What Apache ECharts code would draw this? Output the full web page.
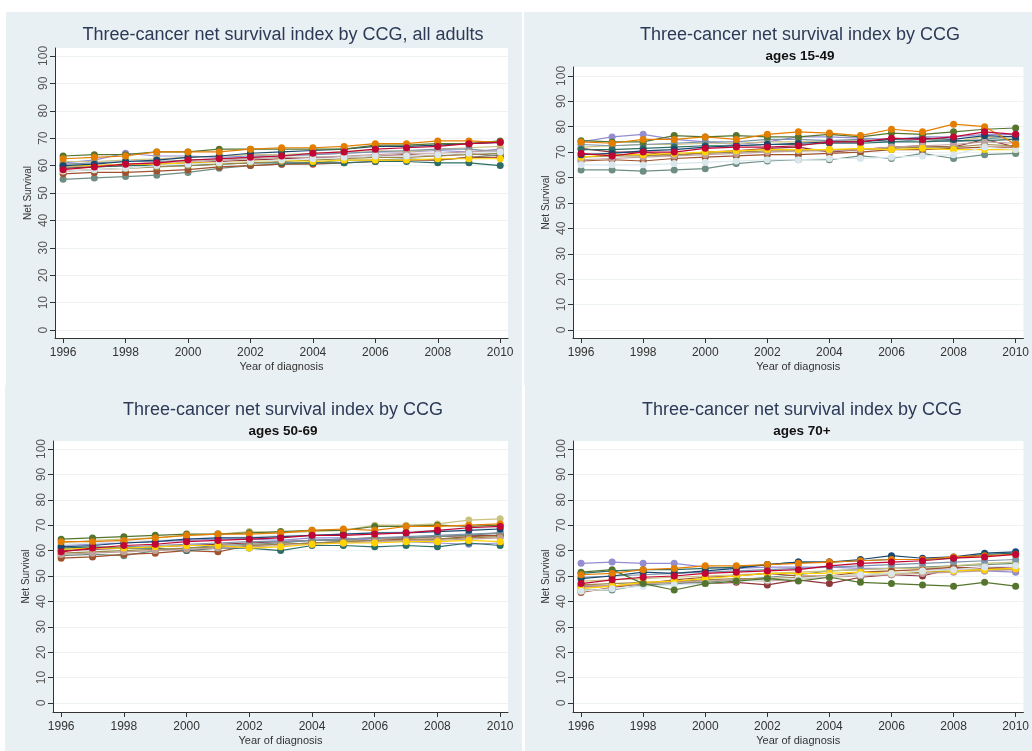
<!DOCTYPE html>
<html>
<head>
<meta charset="utf-8">
<title>Three-cancer net survival index by CCG</title>
<script src="https://cdn.jsdelivr.net/npm/echarts@6.0.0/dist/echarts.min.js"></script>
<style>
  html, body { margin: 0; padding: 0; background: #fff; }
  #chart { width: 1032px; height: 751px; }
</style>
</head>
<body>
<div id="chart"></div>
<script>
// years of diagnosis and tick labels
const years = [1996, 1997, 1998, 1999, 2000, 2001, 2002, 2003, 2004, 2005, 2006, 2007, 2008, 2009, 2010];
const xTicks = [1996, 1998, 2000, 2002, 2004, 2006, 2008, 2010];
const yTicks = [0, 10, 20, 30, 40, 50, 60, 70, 80, 90, 100];

// stata s2color order
const palette = ['#1a476f', '#90353b', '#55752f', '#e37e00', '#6e8e84', '#c10534', '#938dd2', '#cac27e',
  '#a0522d', '#7b92a8', '#2d6d66', '#9c8847', '#bfa19c', '#ffd200', '#d9e6eb'];

// net survival, one row per CCG
const allAdults = [
  [60, 60.5, 61.5, 62, 63, 63.5, 64.5, 65, 65.5, 66, 67, 67, 67.5, 68, 68.5],
  [59, 59.5, 60, 60.5, 61, 61.5, 62, 62.5, 63, 63, 63.5, 64, 63.5, 64.5, 63.5],
  [63.5, 64, 64, 65, 65, 66, 66, 66, 66, 66, 67.5, 67.5, 68, 68, 69],
  [62.5, 63, 63.5, 65, 65, 65, 66, 66.5, 66.5, 67, 68, 68, 69, 69, 68.5],
  [55, 55.5, 56, 56.5, 57.5, 59, 60, 60.5, 61, 62, 62, 62.5, 62, 63, 64],
  [58.5, 59.5, 60.5, 61, 62, 62.5, 63, 63.5, 64.5, 65, 66, 66.5, 67, 68, 68.5],
  [61, 62, 64.5, 63.5, 63.5, 63, 63.5, 64, 64, 64.5, 65, 65, 65.5, 65, 66],
  [61.5, 61.5, 62, 62.5, 63, 63.5, 64, 64, 64.5, 65, 65.5, 65, 66, 66.5, 67],
  [57, 57.5, 57.5, 58, 58.5, 59.5, 60, 60.5, 60.5, 61, 61.5, 62, 62, 63, 63],
  [60.5, 61, 61.5, 61.5, 62, 62.5, 63, 63.5, 64, 64.5, 65, 65.5, 66, 66, 65],
  [59.5, 59.5, 60, 60, 60, 60.5, 61, 61, 61, 61, 61.5, 61.5, 61, 61, 60],
  [58, 58.5, 59, 59.5, 60, 60.5, 61, 61.5, 62, 62.5, 63, 63, 63.5, 64, 64.5],
  [59.5, 60, 60.5, 61, 61.5, 62, 62.5, 63, 63, 63.5, 64, 64.5, 64.5, 65, 65.5],
  [60, 60, 60.5, 60.5, 61, 61, 61.5, 62, 61.5, 62, 62, 62, 62.5, 62.5, 62.5],
  [58, 58.5, 59, 60, 60.5, 61, 61.5, 62, 62.5, 63, 63.5, 63.5, 64, 64.5, 65]
];

const ages15to49 = [
  [69, 69.5, 70.5, 71, 72, 72.5, 73, 73.5, 74, 74, 75, 75.5, 75, 76.5, 76],
  [71.5, 70, 70, 68.5, 70, 70.5, 71.5, 72, 70, 71, 72, 72.5, 72, 75, 72],
  [74.5, 74, 74, 76.5, 76, 76.5, 76, 76, 77, 76, 77.5, 77, 78, 79, 79.5],
  [74, 73.5, 75, 75, 76, 75, 77, 78, 77.5, 76.5, 79, 78, 81, 80, 73],
  [63, 63, 62.5, 63, 63.5, 65.5, 66.5, 67, 67, 68.5, 67.5, 69.5, 67.5, 69, 69.5],
  [69.5, 68.5, 70, 70, 71.5, 72, 72, 72.5, 74, 74, 75.5, 75, 76, 78, 77],
  [74, 76, 77, 75, 74, 73, 74, 76, 76, 75.5, 75, 76, 76, 77, 77],
  [72, 72.5, 73, 73, 73.5, 73.5, 74, 74, 74.5, 74.5, 75, 75.5, 74, 76, 75],
  [66.5, 67, 66.5, 67.5, 68, 68.5, 69, 69, 69.5, 70, 71, 71, 71.5, 72, 72],
  [73, 72.5, 73, 73.5, 74, 74, 75, 75, 74.5, 75, 74, 75, 74, 75, 76.5],
  [71, 71, 71.5, 72, 72.5, 72.5, 73, 73, 73.5, 73.5, 74, 74, 74.5, 74.5, 75],
  [68, 68.5, 68.5, 69, 69.5, 70, 70.5, 70.5, 71, 71, 71.5, 72, 72, 73, 72.5],
  [67, 67.5, 68, 68.5, 69, 69.5, 70, 70.5, 70.5, 71, 72, 72.5, 73, 74, 73.5],
  [68, 69, 69, 69.5, 70, 70.5, 71, 71, 71, 71.5, 71, 71.5, 71, 71, 71],
  [65, 65, 65, 65.5, 66, 66.5, 67, 67, 67.5, 67.5, 68, 68.5, 69, 72, 71]
];

const ages50to69 = [
  [61.5, 62, 63, 63.5, 64.5, 65, 65, 65.5, 66, 66.5, 67, 67, 67.5, 68, 68.5],
  [60, 60.5, 61, 61.5, 62, 62.5, 63, 63.5, 64, 64.5, 65, 65, 65.5, 66, 66],
  [64.5, 65, 65.5, 66, 66.5, 66.5, 67, 67.5, 68, 68, 69.5, 69.5, 70, 69.5, 70],
  [63.5, 63.5, 64, 65, 66, 66.5, 66.5, 67, 68, 68.5, 68, 69.5, 69.5, 70, 70.5],
  [58, 58.5, 58, 60, 61, 62, 62.5, 63, 64, 64, 65, 65, 65.5, 66, 67],
  [59.5, 61, 62, 62.5, 63.5, 64, 64.5, 65, 66, 66, 66.5, 67, 68, 69, 69.5],
  [62, 62.5, 63, 63.5, 64, 64.5, 64.5, 64, 65, 65, 64, 63.5, 63, 62.5, 63],
  [63, 64, 64.5, 65, 66, 66.5, 67.5, 67, 67.5, 68, 70, 70, 70.5, 72, 72.5],
  [57, 57.5, 58.5, 59, 60, 59.5, 62, 62.5, 63, 63.5, 64, 64.5, 64.5, 65.5, 66],
  [60.5, 61, 61.5, 62, 62.5, 63, 63.5, 63.5, 64, 64.5, 65, 65.5, 66, 66.5, 67],
  [61, 61.5, 61, 61, 60, 61, 61, 60, 62, 62, 61.5, 62, 61.5, 63, 62],
  [59, 59.5, 60, 60.5, 61, 61.5, 62, 62.5, 63, 63.5, 64, 64, 64.5, 65, 65.5],
  [58.5, 59, 59.5, 60, 60.5, 61, 61.5, 62, 62.5, 63, 63.5, 64, 64, 64.5, 65],
  [60.5, 61, 61, 61.5, 62, 62, 61, 61.5, 62.5, 63, 63, 63.5, 63.5, 64, 63.5],
  [62.5, 63, 63.5, 64, 64.5, 65, 65.5, 66, 66, 66.5, 67, 67.5, 68, 68.5, 69]
];

const ages70plus = [
  [49, 50, 51.5, 51, 52, 53, 54.5, 55.5, 55.5, 56.5, 58, 57, 57.5, 59, 59.5],
  [46, 46, 47, 48, 47, 47.5, 46.5, 48.5, 47, 49.5, 50.5, 50, 53, 53.5, 53],
  [51.5, 52.5, 47, 44.5, 47, 48, 49, 48, 49.5, 47.5, 47, 46.5, 46, 47.5, 46],
  [50.5, 51, 52.5, 53, 54, 54, 54.5, 55, 55.5, 56, 56.5, 56.5, 57.5, 58, 58.5],
  [44.5, 44.5, 46.5, 47, 47.5, 48.5, 49.5, 50.5, 52, 52.5, 53, 53.5, 54, 54.5, 55],
  [47, 48.5, 49.5, 50, 51, 51.5, 52, 52.5, 54, 55, 55.5, 56, 57, 57.5, 58.5],
  [55, 55.5, 55, 55, 53.5, 53, 53.5, 53.5, 53.5, 53, 53, 53, 52.5, 52, 51.5],
  [48, 48.5, 49, 49.5, 50, 50.5, 51, 51.5, 52, 52.5, 53, 53, 54, 55, 55.5],
  [43.5, 45.5, 47, 48.5, 49.5, 50, 51, 50, 50, 51.5, 52, 52.5, 53.5, 53, 52.5],
  [49.5, 50, 50.5, 51, 51.5, 52, 52.5, 53, 53.5, 54, 54.5, 55, 55.5, 56, 56.5],
  [51, 52, 52.5, 52.5, 53, 53.5, 54.5, 55.5, 55.5, 56, 56.5, 56.5, 57, 58.5, 59],
  [46.5, 47, 47.5, 48, 48.5, 49, 49, 49.5, 50, 50.5, 51, 51.5, 52, 52.5, 53],
  [45.5, 46, 47, 47.5, 48, 48.5, 48, 49, 49.5, 50, 50.5, 51, 51.5, 52, 52.5],
  [45, 46, 47.5, 48, 49, 50, 51, 51, 51, 51.5, 51, 52, 52, 52.5, 53],
  [44, 45, 46, 46.5, 47, 48, 48.5, 49, 50, 50.5, 51, 52, 52.5, 53.5, 54]
];

const font = '"Liberation Sans", Arial, sans-serif';

// panel layout: background box, plot region, axis extents
const panels = [
  { title: 'Three-cancer net survival index by CCG, all adults', sub: '', data: allAdults,
    box: [6, 12, 516, 373], grid: { left: 55, top: 48, width: 453, height: 290 },
    yMin: -2.9, yMax: 102.9, titleX: 283, titleTop: 26 },
  { title: 'Three-cancer net survival index by CCG', sub: 'ages 15-49', data: ages15to49,
    box: [524, 12, 508, 373], grid: { left: 573, top: 67, width: 454, height: 271 },
    yMin: -3.15, yMax: 103.5, titleX: 800, titleTop: 26 },
  { title: 'Three-cancer net survival index by CCG', sub: 'ages 50-69', data: ages50to69,
    box: [5, 385, 517, 366], grid: { left: 53, top: 441, width: 455, height: 271 },
    yMin: -3.54, yMax: 103.15, titleX: 283, titleTop: 401 },
  { title: 'Three-cancer net survival index by CCG', sub: 'ages 70+', data: ages70plus,
    box: [525, 385, 507, 366], grid: { left: 573, top: 441, width: 454, height: 271 },
    yMin: -3.54, yMax: 103.15, titleX: 802, titleTop: 401 }
];

// strong colours drawn above the pale ones, as in the original
const onTop = { 5: 8, 3: 7, 2: 6, 0: 5 };

const chart = echarts.init(document.getElementById('chart'));

const titles = [], grids = [], xAxes = [], yAxes = [], series = [], graphics = [];

panels.forEach(function (p, i) {
  graphics.push({
    type: 'rect', z: -10,
    shape: { x: p.box[0], y: p.box[1], width: p.box[2], height: p.box[3] },
    style: { fill: '#e9f0f3' }
  });
  titles.push({
    text: p.title, subtext: p.sub,
    left: p.titleX, top: p.titleTop, textAlign: 'center', padding: 0, itemGap: 5,
    textStyle: { fontFamily: font, fontSize: 18, fontWeight: 'normal', color: '#2c3a57' },
    subtextStyle: { fontFamily: font, fontSize: 13.5, fontWeight: 'bold', color: '#111' }
  });
  grids.push(Object.assign({ show: true, backgroundColor: '#ffffff', borderWidth: 0, containLabel: false }, p.grid));
  xAxes.push({
    type: 'value', gridIndex: i, min: 1995.74, max: 2010.25,
    name: 'Year of diagnosis', nameLocation: 'middle', nameGap: 23,
    nameTextStyle: { fontFamily: font, fontSize: 11, color: '#333' },
    axisLine: { show: true, onZero: false, lineStyle: { color: '#333', width: 1 } },
    axisTick: { show: true, customValues: xTicks, length: 5, lineStyle: { color: '#333' } },
    axisLabel: { customValues: xTicks, formatter: function (v) { return String(v); },
      fontFamily: font, fontSize: 12, color: '#333', margin: 9 },
    splitLine: { show: false }
  });
  yAxes.push({
    type: 'value', gridIndex: i, min: p.yMin, max: p.yMax,
    name: 'Net Survival', nameLocation: 'middle', nameGap: 22,
    nameTextStyle: { fontFamily: font, fontSize: 10, color: '#333' },
    axisLine: { show: true, onZero: false, lineStyle: { color: '#333', width: 1 } },
    axisTick: { show: true, customValues: yTicks, length: 5, lineStyle: { color: '#333' } },
    axisLabel: { customValues: yTicks, formatter: function (v) { return String(v); },
      rotate: 90, fontFamily: font, fontSize: 12, color: '#555', margin: 5 },
    splitLine: { show: true, lineStyle: { color: '#eef3f5', width: 1 } }
  });
  p.data.forEach(function (row, k) {
    const c = palette[k % palette.length];
    series.push({
      type: 'line', name: 'CCG ' + (k + 1), xAxisIndex: i, yAxisIndex: i,
      data: years.map(function (yr, j) { return [yr, row[j]]; }),
      symbol: 'circle', symbolSize: 7, showSymbol: true,
      z: onTop[k] || 2,
      itemStyle: { color: c },
      lineStyle: { width: 1.2, color: c },
      animation: false, silent: true
    });
  });
});

chart.setOption({
  animation: false,
  title: titles,
  grid: grids,
  xAxis: xAxes,
  yAxis: yAxes,
  series: series,
  graphic: graphics
});
</script>
</body>
</html>
